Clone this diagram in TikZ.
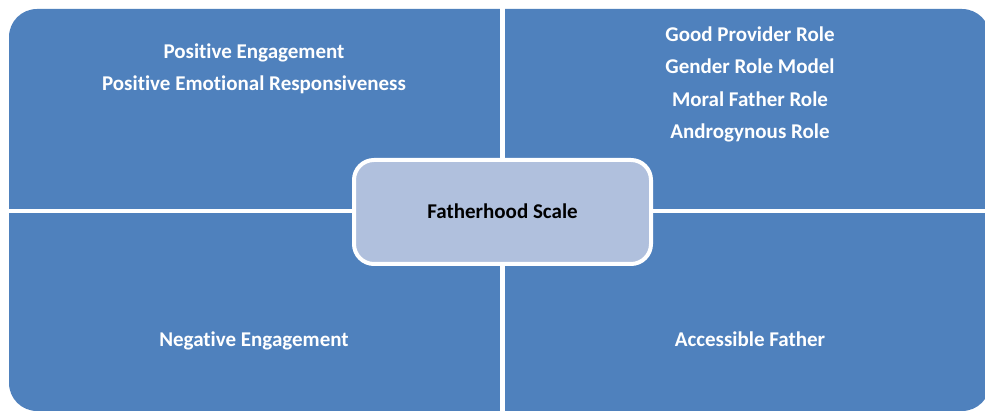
\documentclass[tikz,border=0pt]{standalone}
\usepackage{fontspec}
\setmainfont[Ligatures={NoCommon}]{Carlito}
\definecolor{qblue}{RGB}{79,129,189}
\definecolor{cfill}{RGB}{176,192,221}
\begin{document}
\begin{tikzpicture}[x=1pt,y=1pt,
  qtext/.style={text=white,font=\fontsize{21}{24}\selectfont\bfseries,anchor=base,inner sep=0pt},
  center/.style={draw=white,line width=4pt,fill=cfill,rounded corners=20pt,minimum width=297pt,minimum height=104pt,font=\fontsize{21}{24}\selectfont\bfseries,text=black,text height=13pt,text depth=0pt}]
\useasboundingbox (0,0) rectangle (985,412);
\fill[white] (0,0) rectangle (985,412);
\fill[qblue,rounded corners=28pt] (9,1) rectangle (990,403);
\fill[white] (500,0) rectangle (505,412);
\fill[white] (0,199) rectangle (985,203);
\node[qtext] (tl1) at (254,353.5) {Positive Engagement};
\node[qtext] (tl2) at (254,321) {Positive Emotional Responsiveness};
\node[qtext] (tr1) at (750,370) {Good Provider Role};
\node[qtext] (tr2) at (750,338) {Gender Role Model};
\node[qtext] (tr3) at (750,305) {Moral Father Role};
\node[qtext] (tr4) at (750,273) {Androgynous Role};
\node[qtext] (bl) at (254,65) {Negative Engagement};
\node[qtext] (br) at (750,65) {Accessible Father};
\node[center] (c) at (502.5,200) {Fatherhood Scale};
\end{tikzpicture}
\end{document}
